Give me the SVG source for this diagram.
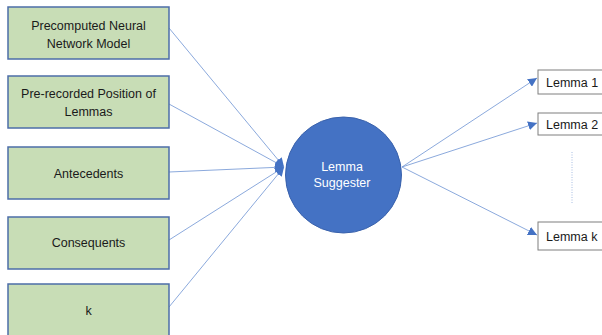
<svg xmlns="http://www.w3.org/2000/svg" width="602" height="335" viewBox="0 0 602 335">
<defs>
<style>
.in rect{fill:#C8DDB6;stroke:#4C6DA8;stroke-width:1.5}
.out rect{fill:#FFFFFF;stroke:#7F7F7F;stroke-width:1}
text{font-family:"Liberation Sans",Arial,sans-serif;font-size:12.5px;fill:#1A1A1A;text-anchor:middle}
.out text{text-anchor:start}
.conn line{stroke:#7E9FD8;stroke-width:0.9;fill:none}
</style>
<marker id="ah" viewBox="0 0 10 10" refX="10" refY="5" markerWidth="9" markerHeight="9" markerUnits="userSpaceOnUse" orient="auto">
<path d="M0,0 L10,5 L0,10 z" fill="#4472C4"/>
</marker>
</defs>
<rect width="602" height="335" fill="#FFFFFF"/>
<g class="conn">
<line x1="169" y1="28" x2="284" y2="167" marker-end="url(#ah)"/>
<line x1="169" y1="104" x2="284" y2="167" marker-end="url(#ah)"/>
<line x1="169" y1="172" x2="284" y2="167" marker-end="url(#ah)"/>
<line x1="169" y1="240" x2="284" y2="167" marker-end="url(#ah)"/>
<line x1="169" y1="307" x2="284" y2="167" marker-end="url(#ah)"/>
<line x1="402" y1="167" x2="537" y2="78" marker-end="url(#ah)"/>
<line x1="402" y1="167" x2="537" y2="123" marker-end="url(#ah)"/>
<line x1="402" y1="167" x2="537" y2="235" marker-end="url(#ah)"/>
<line x1="572" y1="152" x2="572" y2="203" stroke-dasharray="1,1.5" style="stroke:#9DB5DF"/>
</g>
<g id="n1" class="in"><rect x="8" y="7" width="161" height="52"/><text x="88.5" y="29.5">Precomputed Neural</text><text x="88.5" y="47.5">Network Model</text></g>
<g id="n2" class="in"><rect x="8" y="76" width="161" height="52"/><text x="88.5" y="97.5">Pre-recorded Position of</text><text x="88.5" y="115.5">Lemmas</text></g>
<g id="n3" class="in"><rect x="8" y="147" width="161" height="52"/><text x="88.5" y="177.5">Antecedents</text></g>
<g id="n4" class="in"><rect x="8" y="217" width="161" height="52"/><text x="88.5" y="246.5">Consequents</text></g>
<g id="n5" class="in"><rect x="8" y="284" width="161" height="60"/><text x="88.5" y="314.5">k</text></g>
<g id="center"><circle cx="343.5" cy="175" r="58" fill="#4472C4" stroke="#3A62AC" stroke-width="1"/><text x="342" y="170.5" style="fill:#FFFFFF">Lemma</text><text x="342" y="186.5" style="fill:#FFFFFF">Suggester</text></g>
<g id="l1" class="out"><rect x="538" y="70" width="70" height="24"/><text x="546" y="86.5">Lemma 1</text></g>
<g id="l2" class="out"><rect x="538" y="113" width="70" height="22"/><text x="546" y="128.5">Lemma 2</text></g>
<g id="lk" class="out"><rect x="538" y="222" width="70" height="28"/><text x="546" y="240.5">Lemma k</text></g>
</svg>
